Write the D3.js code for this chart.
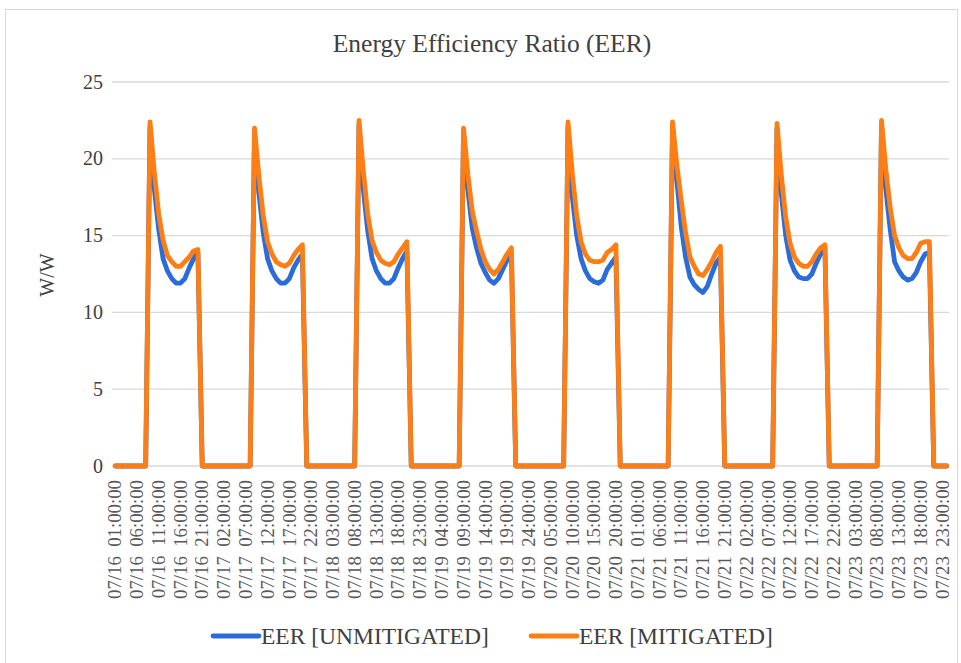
<!DOCTYPE html>
<html>
<head>
<meta charset="utf-8">
<script src="https://cdn.jsdelivr.net/npm/d3@7"></script>
<style>
  body { margin: 0; background: #fff; }
</style>
</head>
<body>
<svg id="chart"></svg>
<script>
const days = ['07/16', '07/17', '07/18', '07/19', '07/20', '07/21', '07/22', '07/23'];
const hours = d3.range(1, 25);
// the unit runs from 09:00 to 20:00; every other hour reads 0
const firstOnHour = 9;

const mitigated = [
  [22.4, 19.1, 16.4, 14.7, 13.7, 13.3, 13.0, 13.0, 13.3, 13.6, 14.0, 14.1],
  [22.0, 18.9, 16.3, 14.6, 13.8, 13.3, 13.1, 13.0, 13.2, 13.7, 14.1, 14.4],
  [22.5, 19.2, 16.4, 14.7, 13.9, 13.4, 13.2, 13.1, 13.3, 13.8, 14.2, 14.6],
  [22.0, 19.0, 16.6, 15.3, 14.1, 13.3, 12.8, 12.5, 12.8, 13.3, 13.8, 14.2],
  [22.4, 19.0, 16.3, 14.6, 13.8, 13.4, 13.3, 13.3, 13.4, 13.9, 14.1, 14.4],
  [22.4, 19.6, 17.3, 15.2, 13.6, 13.0, 12.5, 12.4, 12.8, 13.3, 13.9, 14.3],
  [22.3, 18.9, 16.2, 14.5, 13.6, 13.2, 13.0, 13.0, 13.3, 13.8, 14.2, 14.4],
  [22.5, 19.3, 16.8, 15.0, 14.2, 13.7, 13.5, 13.5, 13.9, 14.5, 14.6, 14.6]
];

const unmitigated = [
  [22.1, 18.0, 15.4, 13.5, 12.7, 12.2, 11.9, 11.9, 12.2, 12.9, 13.5, 13.9],
  [21.7, 17.8, 15.2, 13.5, 12.7, 12.2, 11.9, 11.9, 12.2, 12.9, 13.4, 13.8],
  [22.2, 18.0, 15.3, 13.5, 12.7, 12.2, 11.9, 11.9, 12.2, 12.9, 13.5, 14.0],
  [21.7, 18.0, 15.5, 14.2, 13.2, 12.6, 12.1, 11.9, 12.2, 12.8, 13.4, 13.8],
  [22.1, 17.5, 15.0, 13.5, 12.7, 12.2, 12.0, 11.9, 12.1, 12.8, 13.2, 13.6],
  [22.1, 18.6, 15.6, 13.6, 12.3, 11.8, 11.5, 11.3, 11.7, 12.5, 13.2, 13.6],
  [22.0, 17.7, 15.0, 13.4, 12.7, 12.3, 12.2, 12.2, 12.5, 13.2, 13.8, 14.2],
  [22.2, 18.0, 15.4, 13.3, 12.7, 12.3, 12.1, 12.2, 12.6, 13.3, 13.8, 13.9]
];

const yTicks = [0, 5, 10, 15, 20, 25];
const seriesNames = ['EER [UNMITIGATED]', 'EER [MITIGATED]'];
const seriesColors = ['#2b6cdb', '#fd7e14'];

const width = 961;
const height = 663;
const margin = { top: 82, bottom: 197, left: 113, right: 12 };
const font = '"Liberation Serif", "Times New Roman", serif';

const categories = [];
days.forEach(d => hours.forEach(h => categories.push(`${d}  ${String(h).padStart(2, '0')}:00:00`)));

function fullSeries(dayValues) {
  const out = [];
  dayValues.forEach(vals => {
    hours.forEach(h => {
      const k = h - firstOnHour;
      out.push(k >= 0 && k < vals.length ? vals[k] : 0);
    });
  });
  return out;
}

const series = [fullSeries(unmitigated), fullSeries(mitigated)];

const svg = d3.select('#chart')
  .attr('width', width)
  .attr('height', height);

svg.append('rect')
  .attr('x', 5.5).attr('y', 9.5)
  .attr('width', 952).attr('height', 660)
  .attr('fill', '#fff')
  .attr('stroke', '#d9d9d9');

const xScale = d3.scaleBand()
  .domain(categories)
  .range([margin.left, width - margin.right]);
const yScale = d3.scaleLinear()
  .domain([0, 25])
  .range([height - margin.bottom, margin.top]);

const xPos = c => xScale(c) + xScale.bandwidth() / 2;

svg.append('text')
  .attr('x', 492).attr('y', 52)
  .attr('text-anchor', 'middle')
  .style('font-family', font)
  .style('font-size', '25.5px')
  .attr('fill', '#404040')
  .text('Energy Efficiency Ratio (EER)');

// gridlines
svg.append('g')
  .selectAll('line')
  .data(yTicks)
  .enter().append('line')
    .attr('x1', margin.left - 1)
    .attr('x2', width - margin.right)
    .attr('y1', d => yScale(d))
    .attr('y2', d => yScale(d))
    .attr('stroke', '#d9d9d9')
    .attr('stroke-width', 1.3);

svg.append('g')
  .selectAll('text')
  .data(yTicks)
  .enter().append('text')
    .attr('x', 103)
    .attr('y', d => yScale(d))
    .attr('dy', '0.33em')
    .attr('text-anchor', 'end')
    .style('font-family', font)
    .style('font-size', '20px')
    .attr('fill', '#404040')
    .text(d => d);

svg.append('text')
  .attr('transform', 'translate(54, 275) rotate(-90)')
  .attr('text-anchor', 'middle')
  .style('font-family', font)
  .style('font-size', '20px')
  .attr('fill', '#404040')
  .text('W/W');

// x tick labels, every 5th hour
svg.append('g')
  .selectAll('text')
  .data(categories.filter((c, i) => i % 5 === 0))
  .enter().append('text')
    .attr('transform', d => `translate(${xPos(d)}, 480) rotate(-90)`)
    .attr('dy', '0.33em')
    .attr('text-anchor', 'end')
    .style('font-family', font)
    .style('font-size', '18.8px')
    .style('white-space', 'pre')
    .attr('fill', '#595959')
    .text(d => d);

const line = d3.line()
  .x((d, i) => xPos(categories[i]))
  .y(d => yScale(d));

svg.append('g')
  .selectAll('path')
  .data(series)
  .enter().append('path')
    .attr('d', line)
    .attr('fill', 'none')
    .attr('stroke', (d, i) => seriesColors[i])
    .attr('stroke-width', 4.8)
    .attr('stroke-linejoin', 'round')
    .attr('stroke-linecap', 'round');

// legend
const legendX = [213, 531];
const legend = svg.append('g')
  .selectAll('g')
  .data(seriesNames)
  .enter().append('g')
    .attr('transform', (d, i) => `translate(${legendX[i]}, 636)`);

legend.append('line')
  .attr('x1', 0).attr('x2', 46)
  .attr('stroke', (d, i) => seriesColors[i])
  .attr('stroke-width', 4.8)
  .attr('stroke-linecap', 'round');

legend.append('text')
  .attr('x', 48)
  .attr('dy', '0.33em')
  .style('font-family', font)
  .style('font-size', '23.5px')
  .attr('fill', '#404040')
  .text(d => d);
</script>
</body>
</html>
